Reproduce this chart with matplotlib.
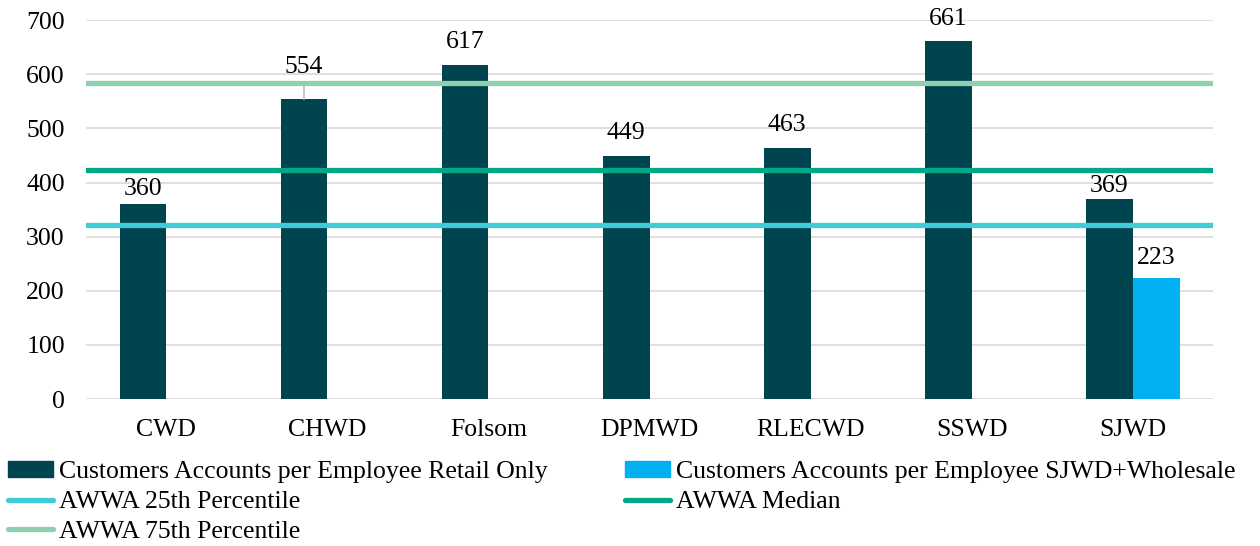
import matplotlib.pyplot as plt
import numpy as np
from matplotlib.patches import Patch
from matplotlib.lines import Line2D

plt.rcParams['font.family'] = ['Liberation Serif', 'DejaVu Serif']

categories = ["CWD", "CHWD", "Folsom", "DPMWD", "RLECWD", "SSWD", "SJWD"]
retail = [360, 554, 617, 449, 463, 661, 369]
wholesale = [None, None, None, None, None, None, 223]
p25 = 321
median = 423
p75 = 584

dark = "#00444F"
blue = "#00B0F0"
fs = 18.5

fig = plt.figure(figsize=(12.6, 5.46), dpi=100)
ax = fig.add_axes([0.068, 0.269, 0.895, 0.694])

x = np.arange(len(categories))
w = 0.29
ax.bar(x - w / 2, retail, width=w, color=dark, zorder=3)
wx = [i for i, v in enumerate(wholesale) if v is not None]
wv = [v for v in wholesale if v is not None]
ax.bar(np.array(wx) + w / 2, wv, width=w, color=blue, zorder=3)

# data labels (label offsets in points, like the moved labels in the original)
offs = [3, 0, 9, 9, 9, 8, 2]
for i, v in enumerate(retail):
    if categories[i] == "CHWD":
        ax.annotate(str(v), (i - w / 2, v), xytext=(0, 15), textcoords="offset points",
                    ha="center", va="bottom", fontsize=fs,
                    arrowprops=dict(arrowstyle="-", color="#BFBFBF", lw=1.2, shrinkA=3, shrinkB=0))
    else:
        ax.annotate(str(v), (i - w / 2, v), xytext=(0, offs[i]), textcoords="offset points",
                    ha="center", va="bottom", fontsize=fs)
for i, v in zip(wx, wv):
    ax.annotate(str(v), (i + w / 2, v), xytext=(0, 7), textcoords="offset points",
                ha="center", va="bottom", fontsize=fs)

ax.axhline(p25, color="#3FCBD8", lw=3.8, zorder=4)
ax.axhline(median, color="#00A887", lw=3.8, zorder=4)
ax.axhline(p75, color="#8FD0B0", lw=3.8, zorder=4)

ax.set_xlim(-0.5, len(categories) - 0.5)
ax.set_ylim(0, 700)
ax.set_yticks(range(0, 701, 100))
ax.set_xticks(x)
ax.set_xticklabels(categories)
ax.tick_params(length=0, labelsize=fs)
ax.tick_params(axis="x", pad=14)
ax.tick_params(axis="y", pad=15)
ax.grid(axis="y", color="#D9D9D9", lw=1.2, zorder=0)
for s in ax.spines.values():
    s.set_visible(False)

handles = [
    Patch(color=dark, label="Customers Accounts per Employee Retail Only"),
    Line2D([], [], color="#3FCBD8", lw=3.8, solid_capstyle="round", label="AWWA 25th Percentile"),
    Line2D([], [], color="#8FD0B0", lw=3.8, solid_capstyle="round", label="AWWA 75th Percentile"),
    Patch(color=blue, label="Customers Accounts per Employee SJWD+Wholesale"),
    Line2D([], [], color="#00A887", lw=3.8, solid_capstyle="round", label="AWWA Median"),
]
fig.legend(handles=handles, ncol=2, loc="upper left", bbox_to_anchor=(-0.002, 0.174),
           frameon=False, fontsize=fs, handlelength=1.75, handleheight=0.55,
           handletextpad=0.25, columnspacing=3.0, labelspacing=0.3, borderaxespad=0)

fig.savefig("out.png", dpi=100)
